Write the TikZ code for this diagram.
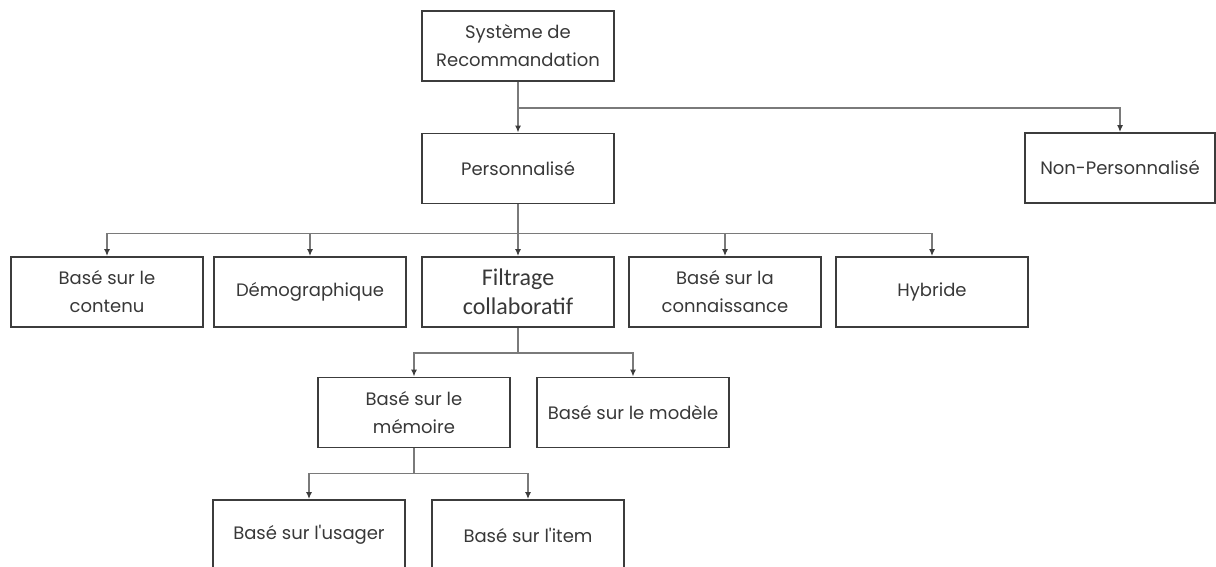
\documentclass[tikz,border=0pt]{standalone}
\usepackage{fontspec}
\usetikzlibrary{arrows.meta}
\newfontfamily\gothic{Poppins}
\newfontfamily\calib{Carlito}
\definecolor{boxgray}{HTML}{3C3C3C}
\definecolor{linegray}{HTML}{7A7A7A}
\definecolor{textgray}{HTML}{383838}
\begin{document}
\begin{tikzpicture}[x=1pt,y=-1pt,>={Latex[length=7pt,width=6pt,color=boxgray]},
	box/.style={draw=boxgray,line width=1.8pt,minimum width=192pt,minimum height=70pt,
		inner sep=2pt,align=center,text=textgray,font=\gothic\fontsize{18}{28}\selectfont},
	link/.style={draw=linegray,line width=1.7pt}]
	\useasboundingbox (0,0) rectangle (1216,566);
	% levels of the tree
	\node[box] (root) at (518,46) {Système de\\Recommandation};
	\node[box] (perso) at (518,168.5) {Personnalisé};
	\node[box,minimum width=190pt] (nonperso) at (1120,168) {Non-Personnalisé};
	\node[box] (contenu) at (107,292) {Basé sur le\\contenu};
	\node[box] (demo) at (310,292) {Démographique};
	\node[box,font=\calib\fontsize{24}{29}\selectfont] (filtrage) at (518,292) {Filtrage\\collaboratif};
	\node[box] (connaissance) at (725,292) {Basé sur la\\connaissance};
	\node[box] (hybride) at (932,292) {Hybride};
	\node[box] (memoire) at (414,412.5) {Basé sur le\\mémoire};
	\node[box] (modele) at (633,412.5) {Basé sur le modèle};
	\node[box] (usager) at (309,535) {Basé sur l'usager};
	\node[box] (item) at (528,535) {Basé sur l'item};
	% connectors
	\draw[link,->] (root) -- (perso);
	\draw[link,->] (root.south) -- ++(0,26) -| (nonperso.north);
	\foreach \n in {contenu,demo,filtrage,connaissance,hybride}
		\draw[link,->] (perso.south) -- ++(0,29) -| (\n.north);
	\foreach \n in {memoire,modele}
		\draw[link,->] (filtrage.south) -- ++(0,25) -| (\n.north);
	\foreach \n in {usager,item}
		\draw[link,->] (memoire.south) -- ++(0,25) -| (\n.north);
\end{tikzpicture}
\end{document}
